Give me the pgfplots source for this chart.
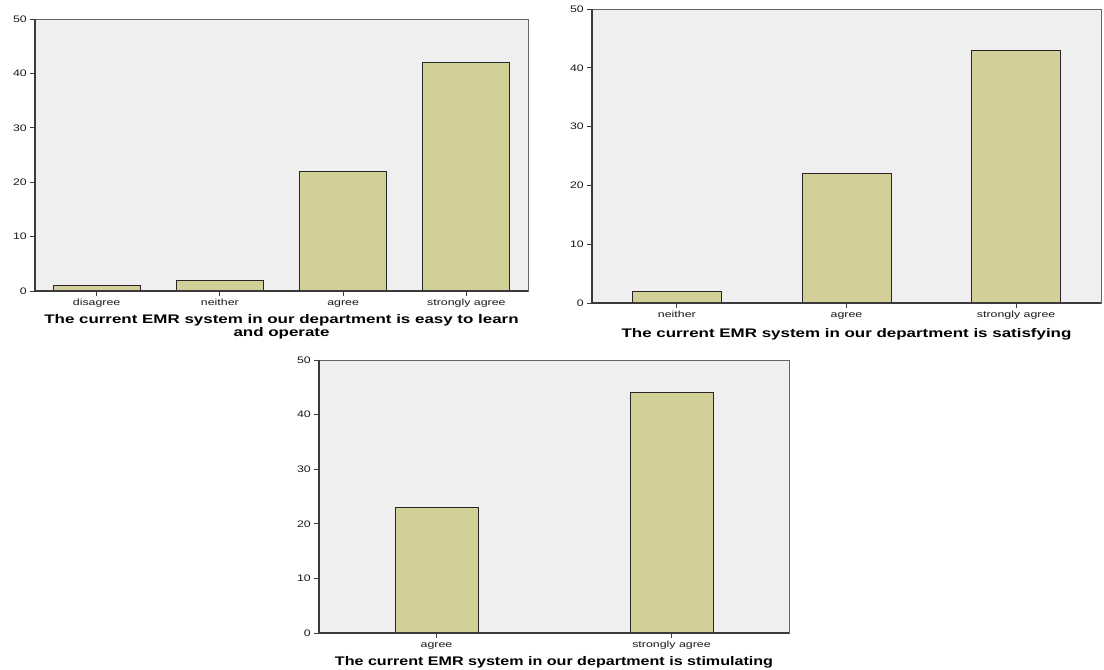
\documentclass[border=0pt]{standalone}
\usepackage{pgfplots}
\pgfplotsset{compat=1.18}
\usepackage{fontspec}
\setmainfont{Liberation Sans}
\definecolor{bgc}{HTML}{EFEFEF}
\definecolor{barc}{HTML}{D3CF98}
\definecolor{edgec}{HTML}{3A3A3A}
\pgfplotsset{
  spss/.style={
    scale only axis, anchor=south west,
    ymin=0, ymax=50, ytick={0,10,20,30,40,50},
    xtick pos=bottom, ytick pos=left,
    tick align=outside, major tick length=5bp,
    every tick/.style={edgec, line width=0.8pt},
    axis line style={draw=black!60, line width=0.8pt},
    axis background/.style={fill=bgc},
    /pgf/number format/assume math mode=true,
    yticklabel style={font=\fontsize{9.5}{11}\selectfont, text=black!90, xscale=1.3, xshift=1bp},
    xticklabel style={font=\fontsize{9}{10}\selectfont, text=black!90, xscale=1.38,
      text height=1.5ex, text depth=0.25ex, inner sep=1pt, yshift=-0.5bp},
    xlabel style={font=\fontsize{12.5}{13}\selectfont\bfseries, align=center, xscale=1.36,
      at={(axis description cs:0.5,0)}, anchor=north, inner sep=0pt},
    clip=false,
  },
  mybar/.style={ybar, bar shift=0pt, fill=barc, draw=black!85, line width=0.8pt},
}
\begin{document}
\begin{tikzpicture}[x=1bp,y=1bp]
\path (0,0) rectangle (1104,670);
% Panel 1
\begin{axis}[spss,
  at={(35bp,379bp)}, width=493bp, height=272bp,
  xmin=-0.5, xmax=3.5,
  xtick={0,1,2,3}, xticklabels={disagree,neither,agree,strongly agree},
  xlabel style={yshift=-23bp},
  xlabel={The current EMR system in our department is easy to learn\\and operate}]
\addplot[mybar, bar width=87bp] coordinates {(0,1) (1,2) (2,22) (3,42)};
\draw[edgec, line width=1.6pt] (rel axis cs:0,1) -- (rel axis cs:0,0) -- (rel axis cs:1,0);
\end{axis}
% Panel 2
\begin{axis}[spss,
  at={(592bp,367bp)}, width=509bp, height=294bp,
  xmin=-0.5, xmax=2.5,
  xtick={0,1,2}, xticklabels={neither,agree,strongly agree},
  xlabel style={yshift=-25bp},
  xlabel={The current EMR system in our department is satisfying}]
\addplot[mybar, bar width=89bp] coordinates {(0,2) (1,22) (2,43)};
\draw[edgec, line width=1.6pt] (rel axis cs:0,1) -- (rel axis cs:0,0) -- (rel axis cs:1,0);
\end{axis}
% Panel 3
\begin{axis}[spss,
  at={(319bp,37bp)}, width=470bp, height=273bp,
  xmin=-0.5, xmax=1.5,
  xtick={0,1}, xticklabels={agree,strongly agree},
  xlabel style={yshift=-23bp, xscale=0.95},
  xlabel={The current EMR system in our department is stimulating}]
\addplot[mybar, bar width=83bp] coordinates {(0,23) (1,44)};
\draw[edgec, line width=1.6pt] (rel axis cs:0,1) -- (rel axis cs:0,0) -- (rel axis cs:1,0);
\end{axis}
\end{tikzpicture}
\end{document}
